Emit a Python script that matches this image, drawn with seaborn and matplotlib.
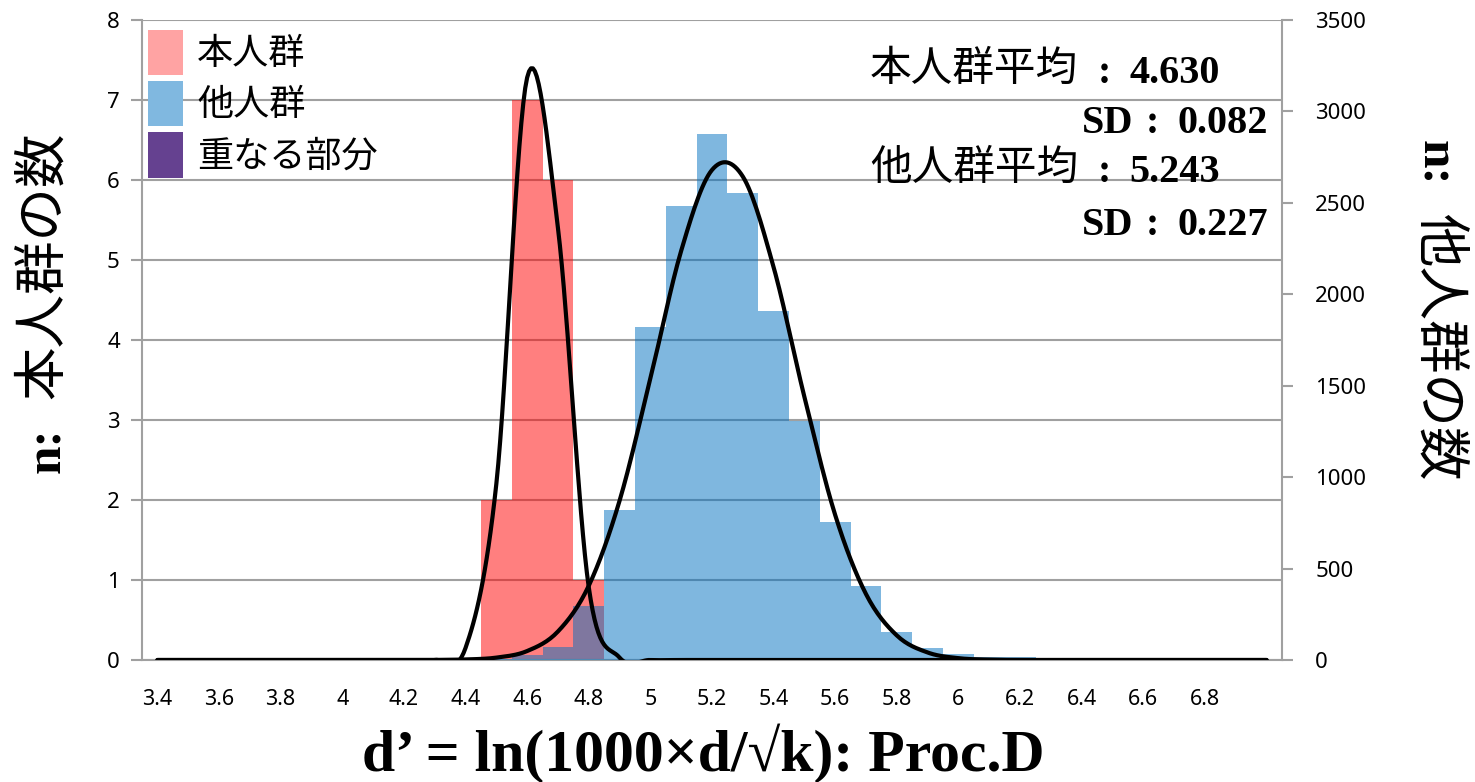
import numpy as np
import pandas as pd
import matplotlib
matplotlib.use("Agg")
import matplotlib.pyplot as plt
from matplotlib.patches import Patch
import seaborn as sns

# bin centres of d' (0.1 wide classes)
categories = [3.4, 3.5, 3.6, 3.7, 3.8, 3.9, 4.0, 4.1, 4.2, 4.3, 4.4, 4.5, 4.6,
              4.7, 4.8, 4.9, 5.0, 5.1, 5.2, 5.3, 5.4, 5.5, 5.6, 5.7, 5.8, 5.9,
              6.0, 6.1, 6.2, 6.3, 6.4, 6.5, 6.6, 6.7, 6.8, 6.9, 7.0]

# 本人群 counts (left axis)
self_counts = [0, 0, 0, 0, 0, 0, 0, 0, 0, 0, 0, 2, 7,
               6, 1, 0, 0, 0, 0, 0, 0, 0, 0, 0, 0, 0,
               0, 0, 0, 0, 0, 0, 0, 0, 0, 0, 0]
# 他人群 counts (right axis)
other_counts = [0, 0, 0, 0, 0, 0, 0, 0, 0, 0, 0, 3, 27,
                71, 295, 820, 1820, 2483, 2876, 2553, 1908, 1307, 755, 405, 153, 66,
                33, 15, 14, 2, 0, 0, 0, 0, 0, 0, 0]

# fitted normal curves read at the bin centres
self_fit = [0, 0, 0, 0, 0, 0, 0, 0, 0, 0, 0.15, 2.2, 7.28,
            5.4, 0.91, 0.03, 0, 0, 0, 0, 0, 0, 0, 0, 0, 0,
            0, 0, 0, 0, 0, 0, 0, 0, 0, 0, 0]
other_fit = [0, 0, 0, 0, 0, 0, 0, 0, 0, 0.5, 3, 13, 49,
             156, 406, 871, 1539, 2238, 2680, 2644, 2148, 1438, 792, 360, 134, 41,
             10, 2, 0, 0, 0, 0, 0, 0, 0, 0, 0]

self_mean, self_sd = 4.630, 0.082
other_mean, other_sd = 5.243, 0.227

xtick_labels = ["3.4", "3.6", "3.8", "4", "4.2", "4.4", "4.6", "4.8", "5",
                "5.2", "5.4", "5.6", "5.8", "6", "6.2", "6.4", "6.6", "6.8"]


def smooth(x, y, steps=16):
    # Excel style smoothed line (Catmull-Rom bezier through the points)
    x = np.asarray(x, float)
    y = np.asarray(y, float)
    P = np.column_stack([x, y])
    P = np.vstack([P[0], P, P[-1]])
    t = np.linspace(0, 1, steps, endpoint=False)[:, None]
    out = []
    for i in range(len(x) - 1):
        p0, p1, p2, p3 = P[i], P[i + 1], P[i + 2], P[i + 3]
        c1 = p1 + (p2 - p0) / 6
        c2 = p2 - (p3 - p1) / 6
        seg = ((1 - t) ** 3) * p1 + 3 * ((1 - t) ** 2) * t * c1 + 3 * (1 - t) * t ** 2 * c2 + t ** 3 * p2
        out.append(seg)
    out.append(P[-2][None, :])
    out = np.vstack(out)
    return out[:, 0], out[:, 1]


sns.set_style("white")
plt.rcParams['font.family'] = ['Noto Sans', 'Noto Sans CJK JP', 'DejaVu Sans']
plt.rcParams['text.color'] = 'black'
plt.rcParams['xtick.labelcolor'] = 'black'
plt.rcParams['ytick.labelcolor'] = 'black'
SERIF = ['Liberation Serif', 'DejaVu Serif']
CJK = ['Noto Sans CJK JP', 'DejaVu Sans']
W, H = 1475, 782
GRAY = '#A0A0A0'

fig = plt.figure(figsize=(W / 100, H / 100), dpi=100)
ax1 = fig.add_axes([142 / W, 1 - 660 / H, (1282 - 142) / W, 640 / H])
ax2 = ax1.twinx()

df = pd.DataFrame({"d": categories, "self": self_counts, "other": other_counts})
cats = np.array(categories)
edges = [round(c - 0.05, 2) for c in categories] + [round(categories[-1] + 0.05, 2)]

sns.histplot(data=df, x="d", weights="self", bins=edges, ax=ax1,
             color='#FF0000', alpha=0.5, linewidth=0)
sns.histplot(data=df, x="d", weights="other", bins=edges, ax=ax2,
             color='#0070C0', alpha=0.5, linewidth=0)

bx, by = smooth(categories, other_fit)
sns.lineplot(x=bx, y=by, ax=ax2, color='black', lw=3, sort=False, estimator=None)
rx, ry = smooth(categories, self_fit)
ax2.plot(rx, ry, color='black', lw=3, transform=ax1.transData)

ax1.set_xlim(3.35, 7.05)
ax1.set_ylim(0, 8)
ax2.set_ylim(0, 3500)
ax1.set_yticks(range(0, 9))
ax2.set_yticks(range(0, 3501, 500))
ax1.set_xticks(cats[:36:2], labels=xtick_labels)
ax1.set_xticks(edges, minor=True)
ax1.tick_params(axis='x', which='major', length=0, pad=21, labelsize=15.5)
ax1.tick_params(axis='x', which='minor', length=8, width=1.5, color=GRAY, direction='out')
ax1.tick_params(axis='y', length=8, width=1.5, color=GRAY, labelsize=16, pad=8)
ax2.tick_params(axis='y', length=8, width=1.5, color=GRAY, labelsize=16, pad=16)
ax1.set_xlabel('')
ax1.set_ylabel('')
ax2.set_ylabel('')
ax1.yaxis.grid(True, color=GRAY, lw=1.5)
ax1.set_axisbelow(True)

for s in ['top', 'right']:
    ax1.spines[s].set_visible(False)
for s in ['top', 'left', 'bottom']:
    ax2.spines[s].set_visible(False)
for sp in [ax1.spines['left'], ax1.spines['bottom'], ax2.spines['right']]:
    sp.set_color(GRAY)
    sp.set_linewidth(1.5)

handles = [Patch(facecolor='#FFA3A3', edgecolor='none', label='本人群'),
           Patch(facecolor='#80B8E0', edgecolor='none', label='他人群'),
           Patch(facecolor='#654190', edgecolor='none', label='重なる部分')]
ax2.legend(handles=handles, loc='upper left', bbox_to_anchor=(0.005, 0.985),
           frameon=False, borderaxespad=0, borderpad=0, handlelength=0.97,
           handleheight=1.55, handletextpad=0.4, labelspacing=0.17,
           prop={'family': CJK, 'size': 26})


def fx(px):
    return px / W


def fy(py):
    return 1 - py / H


# statistics box
rows = [("本人群平均", self_mean, 83, False),
        ("SD", self_sd, 133, True),
        ("他人群平均", other_mean, 182, False),
        ("SD", other_sd, 235, True)]
for name, val, base, is_sd in rows:
    if is_sd:
        fig.text(fx(1133), fy(base), name, ha='right', va='baseline',
                 family=SERIF, weight='bold', size=29)
        fig.text(fx(1152), fy(base), ':', ha='center', va='baseline',
                 family=SERIF, weight='bold', size=29)
        fig.text(fx(1268), fy(base), f"{val:.3f}", ha='right', va='baseline',
                 family=SERIF, weight='bold', size=29)
    else:
        fig.text(fx(870), fy(base - 2), name, ha='left', va='baseline',
                 family=CJK, size=30)
        fig.text(fx(1104), fy(base), ':', ha='center', va='baseline',
                 family=SERIF, weight='bold', size=29)
        fig.text(fx(1220), fy(base), f"{val:.3f}", ha='right', va='baseline',
                 family=SERIF, weight='bold', size=29)

# axis titles
fig.text(fx(60), fy(450), 'n:', rotation=90, rotation_mode='anchor',
         ha='center', va='baseline', family=SERIF, weight='bold', size=37)
fig.text(fx(58), fy(265), '本人群の数', rotation=90, rotation_mode='anchor',
         ha='center', va='baseline', family=CJK, size=38.5)
fig.text(fx(1422), fy(163), 'n:', rotation=-90, rotation_mode='anchor',
         ha='center', va='baseline', family=SERIF, weight='bold', size=37)
fig.text(fx(1424), fy(347), '他人群の数', rotation=-90, rotation_mode='anchor',
         ha='center', va='baseline', family=CJK, size=38.5)
fig.text(fx(703), fy(771), 'd’ = ln(1000×d/√k): Proc.D', ha='center', va='baseline',
         family=SERIF, weight='bold', size=43)

fig.savefig('out.png', dpi=100)
